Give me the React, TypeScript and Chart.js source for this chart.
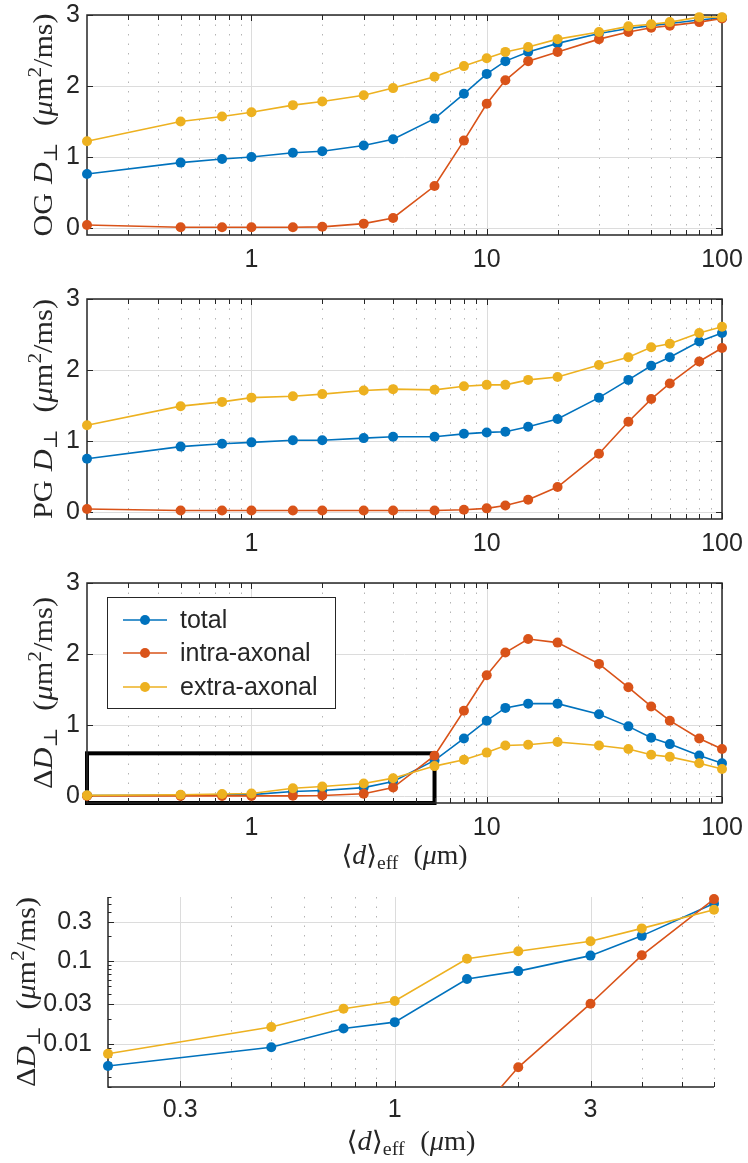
import React, { useEffect, useRef } from 'react';
import { Chart, registerables } from 'chart.js';

Chart.register(...registerables);

// ---------------- data ----------------
const X_VALUES = [0.2, 0.5, 0.75, 1, 1.5, 2, 3, 4, 6, 8, 10, 12, 15, 20, 30, 40, 50, 60, 80, 100];

const OG_TOTAL = [0.76, 0.92, 0.97, 1.0, 1.06, 1.08, 1.16, 1.25, 1.54, 1.89, 2.17, 2.35, 2.48, 2.6, 2.74, 2.81, 2.85, 2.88, 2.93, 2.96];
const OG_INTRA = [0.04, 0.01, 0.01, 0.01, 0.01, 0.015, 0.06, 0.14, 0.59, 1.23, 1.75, 2.08, 2.35, 2.48, 2.66, 2.76, 2.82, 2.85, 2.9, 2.95];
const OG_EXTRA = [1.22, 1.5, 1.57, 1.63, 1.73, 1.78, 1.87, 1.97, 2.13, 2.28, 2.39, 2.48, 2.55, 2.66, 2.76, 2.84, 2.87, 2.9, 2.97, 2.97];

const PG_TOTAL = [0.75, 0.92, 0.96, 0.98, 1.01, 1.01, 1.04, 1.06, 1.06, 1.1, 1.12, 1.13, 1.2, 1.31, 1.61, 1.86, 2.06, 2.18, 2.4, 2.52];
const PG_INTRA = [0.04, 0.02, 0.02, 0.02, 0.02, 0.02, 0.02, 0.02, 0.02, 0.03, 0.05, 0.09, 0.17, 0.35, 0.82, 1.27, 1.59, 1.81, 2.12, 2.31];
const PG_EXTRA = [1.22, 1.49, 1.55, 1.61, 1.63, 1.66, 1.71, 1.73, 1.72, 1.77, 1.79, 1.79, 1.86, 1.9, 2.07, 2.18, 2.32, 2.37, 2.52, 2.61];

const D_TOTAL = [0.0054, 0.0091, 0.0153, 0.0183, 0.061, 0.076, 0.117, 0.203, 0.5, 0.81, 1.06, 1.24, 1.3, 1.3, 1.15, 0.98, 0.82, 0.73, 0.57, 0.46];
const D_INTRA = [0, 0, 0, 0, 0.001, 0.0052, 0.0306, 0.118, 0.566, 1.2, 1.7, 2.02, 2.21, 2.16, 1.86, 1.53, 1.26, 1.06, 0.81, 0.66];
const D_EXTRA = [0.0076, 0.016, 0.0266, 0.033, 0.107, 0.132, 0.175, 0.25, 0.42, 0.51, 0.61, 0.71, 0.72, 0.76, 0.71, 0.66, 0.58, 0.55, 0.46, 0.38];

const SERIES_NAMES = ['total', 'intra-axonal', 'extra-axonal'];
const SERIES_COLORS = ['#0072BD', '#D95319', '#EDB120'];

// axes / ticks
const X_RANGE_MAIN = [0.2, 100];
const X_RANGE_ZOOM = [0.2, 6];
const Y_RANGE_LIN = [-0.1, 3];
const Y_RANGE_LOG = [0.003, 0.6];
const X_TICKS_MAIN = [1, 10, 100];
const X_MINOR_MAIN = [0.3, 0.4, 0.5, 0.6, 0.7, 0.8, 0.9, 2, 3, 4, 5, 6, 7, 8, 9, 20, 30, 40, 50, 60, 70, 80, 90];
const X_TICKS_ZOOM = [0.3, 1, 3];
const X_MINOR_ZOOM = [0.4, 0.5, 0.6, 0.7, 0.8, 0.9, 2, 4, 5, 6];
const Y_TICKS_LIN = [0, 1, 2, 3];
const Y_TICKS_LOG = [0.01, 0.03, 0.1, 0.3];
const Y_MINOR_LOG = [0.003, 0.004, 0.005, 0.006, 0.007, 0.008, 0.009, 0.02, 0.04, 0.05, 0.06, 0.07, 0.08, 0.09, 0.2, 0.4, 0.5, 0.6];
const ZOOM_BOX_X = [0.2, 6];
const ZOOM_BOX_Y = [-0.1, 0.6];

// titles (rich text segments)
type Seg = { t?: string; it?: boolean; sub?: boolean; sup?: boolean; gap?: number };
const UNIT_SEGS: Seg[] = [{ t: '(' }, { t: 'μ', it: true }, { t: 'm' }, { t: '2', sup: true }, { t: '/ms)' }];
const Y_TITLE_OG: Seg[] = [{ t: 'OG' }, { gap: 0.3 }, { t: 'D', it: true }, { t: '⊥', sub: true }, { gap: 0.55 }, ...UNIT_SEGS];
const Y_TITLE_PG: Seg[] = [{ t: 'PG' }, { gap: 0.3 }, { t: 'D', it: true }, { t: '⊥', sub: true }, { gap: 0.55 }, ...UNIT_SEGS];
const Y_TITLE_DELTA: Seg[] = [{ t: 'Δ' }, { t: 'D', it: true }, { t: '⊥', sub: true }, { gap: 0.55 }, ...UNIT_SEGS];
const X_TITLE: Seg[] = [{ t: '⟨' }, { t: 'd', it: true }, { t: '⟩' }, { t: 'eff', sub: true }, { gap: 0.55 }, { t: '(' }, { t: 'μ', it: true }, { t: 'm)' }];

// ---------------- styling ----------------
const FONT_SANS = '"Liberation Sans", Arial, Helvetica, sans-serif';
const FONT_SERIF = '"Liberation Serif", "DejaVu Serif", serif';
const AXIS_COLOR = '#262626';

type PanelDef = {
  top: number;
  height: number;
  padTop: number;
  padRight: number;
  yAxisW: number;
  xAxisH: number;
  xRange: number[];
  yRange: number[];
  yLog: boolean;
  xTicks: number[];
  xMinor: number[];
  yTicks: number[];
  yMinor: number[];
  series: (number | null)[][];
  nPoints: number;
  box: boolean;
  xTickPad: number;
  yTickPad: number;
  yTitle: Seg[];
  yTitleX: number;
  yTitleLen: number;
  xTitle?: Seg[];
  xTitleDy?: number;
  xTitleLen?: number;
  legend?: boolean;
  zoomBox?: boolean;
};

function drawRich(ctx: CanvasRenderingContext2D, segs: Seg[], cx: number, cy: number, size: number, target: number, rotate: boolean) {
  ctx.save();
  ctx.translate(cx, cy);
  if (rotate) ctx.rotate(-Math.PI / 2);
  const fontOf = (s: Seg) => `${s.it ? 'italic ' : ''}${s.sub || s.sup ? Math.round(size * 0.7) : size}px ${FONT_SERIF}`;
  const widths: number[] = [];
  let total = 0;
  for (const s of segs) {
    ctx.font = fontOf(s);
    const w = s.gap ? s.gap * size : ctx.measureText(s.t || '').width;
    widths.push(w);
    total += w;
  }
  const sx = target ? target / total : 1;
  ctx.scale(sx, 1);
  ctx.fillStyle = AXIS_COLOR;
  ctx.textBaseline = 'alphabetic';
  ctx.textAlign = 'left';
  let x = -total / 2;
  segs.forEach((s, i) => {
    if (s.t) {
      ctx.font = fontOf(s);
      const dy = s.sub ? size * 0.2 : s.sup ? -size * 0.38 : 0;
      ctx.fillText(s.t, x, dy + size * 0.28);
    }
    x += widths[i];
  });
  ctx.restore();
}

function makePlugin(p: PanelDef) {
  return {
    id: 'matlabAxes',
    beforeDatasetsDraw(chart: any) {
      const { ctx, chartArea: a, scales } = chart;
      const xs = scales.x;
      const ys = scales.y;
      ctx.save();
      const vline = (v: number) => {
        const px = Math.round(xs.getPixelForValue(v)) + 0.5;
        ctx.beginPath();
        ctx.moveTo(px, a.top);
        ctx.lineTo(px, a.bottom);
        ctx.stroke();
      };
      const hline = (v: number) => {
        const py = Math.round(ys.getPixelForValue(v)) + 0.5;
        ctx.beginPath();
        ctx.moveTo(a.left, py);
        ctx.lineTo(a.right, py);
        ctx.stroke();
      };
      // minor dotted grid
      ctx.lineWidth = 1;
      ctx.strokeStyle = '#b4b4b4';
      ctx.setLineDash([1.5, 8]);
      p.xMinor.forEach(vline);
      ctx.setLineDash([]);
      // major grid
      ctx.strokeStyle = '#dcdcdc';
      p.xTicks.forEach(vline);
      p.yTicks.forEach(hline);

      // zoom rectangle
      if (p.zoomBox) {
        const x0 = xs.getPixelForValue(ZOOM_BOX_X[0]);
        const x1 = xs.getPixelForValue(ZOOM_BOX_X[1]);
        const y0 = ys.getPixelForValue(ZOOM_BOX_Y[0]);
        const y1 = ys.getPixelForValue(ZOOM_BOX_Y[1]);
        ctx.strokeStyle = '#000';
        ctx.lineWidth = 4;
        ctx.strokeRect(x0, y1, x1 - x0, y0 - y1);
      }

      // axes lines
      ctx.strokeStyle = AXIS_COLOR;
      ctx.lineWidth = 1.5;
      ctx.beginPath();
      if (p.box) {
        ctx.rect(a.left, a.top, a.right - a.left, a.bottom - a.top);
      } else {
        ctx.moveTo(a.left, a.top);
        ctx.lineTo(a.left, a.bottom);
        ctx.lineTo(a.right, a.bottom);
      }
      ctx.stroke();

      // tick marks (inward)
      ctx.lineWidth = 1;
      const xt = (v: number, len: number) => {
        const px = Math.round(xs.getPixelForValue(v)) + 0.5;
        ctx.beginPath();
        ctx.moveTo(px, a.bottom);
        ctx.lineTo(px, a.bottom - len);
        if (p.box) {
          ctx.moveTo(px, a.top);
          ctx.lineTo(px, a.top + len);
        }
        ctx.stroke();
      };
      const yt = (v: number, len: number) => {
        const py = Math.round(ys.getPixelForValue(v)) + 0.5;
        ctx.beginPath();
        ctx.moveTo(a.left, py);
        ctx.lineTo(a.left + len, py);
        if (p.box) {
          ctx.moveTo(a.right, py);
          ctx.lineTo(a.right - len, py);
        }
        ctx.stroke();
      };
      p.xMinor.forEach((v) => xt(v, 5));
      p.xTicks.forEach((v) => xt(v, 6));
      p.yMinor.forEach((v) => yt(v, 3.5));
      p.yTicks.forEach((v) => yt(v, 6));
      ctx.restore();
    },
    afterDatasetsDraw(chart: any) {
      if (!p.legend) return;
      const { ctx, chartArea: a } = chart;
      ctx.save();
      const bx = a.left + 20;
      const by = a.top + 14;
      ctx.fillStyle = '#fff';
      ctx.fillRect(bx, by, 228, 111);
      ctx.strokeStyle = AXIS_COLOR;
      ctx.lineWidth = 1;
      ctx.strokeRect(bx + 0.5, by + 0.5, 228, 111);
      const rows = [37, 70, 104];
      SERIES_NAMES.forEach((name, i) => {
        const y = a.top + rows[i];
        ctx.strokeStyle = SERIES_COLORS[i];
        ctx.lineWidth = 1.5;
        ctx.beginPath();
        ctx.moveTo(a.left + 36, y);
        ctx.lineTo(a.left + 80, y);
        ctx.stroke();
        ctx.fillStyle = SERIES_COLORS[i];
        ctx.beginPath();
        ctx.arc(a.left + 58, y, 5, 0, Math.PI * 2);
        ctx.fill();
        ctx.fillStyle = AXIS_COLOR;
        ctx.font = `25px ${FONT_SANS}`;
        ctx.textBaseline = 'middle';
        ctx.textAlign = 'left';
        ctx.fillText(name, a.left + 93, y + 1);
      });
      ctx.restore();
    },
    afterDraw(chart: any) {
      const { ctx, chartArea: a } = chart;
      drawRich(ctx, p.yTitle, p.yTitleX, (a.top + a.bottom) / 2, 27, p.yTitleLen, true);
      if (p.xTitle) {
        drawRich(ctx, p.xTitle, (a.left + a.right) / 2, a.bottom + (p.xTitleDy || 0), 27, p.xTitleLen || 0, false);
      }
    },
  };
}

function buildConfig(p: PanelDef): any {
  const datasets = p.series.map((vals, i) => ({
    label: SERIES_NAMES[i],
    data: X_VALUES.slice(0, p.nPoints).map((x, j) => {
      const v = vals[j];
      return { x, y: p.yLog ? (v !== null && v > 0 ? v : null) : v };
    }),
    borderColor: SERIES_COLORS[i],
    backgroundColor: SERIES_COLORS[i],
    pointBackgroundColor: SERIES_COLORS[i],
    pointBorderColor: SERIES_COLORS[i],
    pointBorderWidth: 0,
    pointRadius: 5,
    borderWidth: 1.6,
    tension: 0,
    spanGaps: false,
    order: 3 - i,
    clip: p.yLog ? { left: 10, right: 10, top: 10, bottom: 0 } : 10,
  }));
  const tickFont = { family: FONT_SANS, size: 25 };
  return {
    type: 'line',
    data: { datasets },
    options: {
      responsive: false,
      animation: false,
      events: [],
      layout: { padding: { top: p.padTop, left: 0, right: p.padRight, bottom: 0 } },
      plugins: { legend: { display: false }, tooltip: { enabled: false } },
      scales: {
        x: {
          type: 'logarithmic',
          min: p.xRange[0],
          max: p.xRange[1],
          grid: { display: false, drawTicks: false },
          border: { display: false },
          ticks: {
            autoSkip: false,
            maxRotation: 0,
            minRotation: 0,
            padding: p.xTickPad,
            font: tickFont,
            color: AXIS_COLOR,
            callback: (v: any) => String(v),
          },
          afterBuildTicks: (ax: any) => {
            ax.ticks = p.xTicks.map((v) => ({ value: v }));
          },
          afterFit: (ax: any) => {
            ax.height = p.xAxisH;
            ax.paddingLeft = 0;
            ax.paddingRight = 0;
          },
        },
        y: {
          type: p.yLog ? 'logarithmic' : 'linear',
          min: p.yRange[0],
          max: p.yRange[1],
          grid: { display: false, drawTicks: false },
          border: { display: false },
          ticks: {
            autoSkip: false,
            padding: p.yTickPad,
            font: tickFont,
            color: AXIS_COLOR,
            callback: (v: any) => String(v),
          },
          afterBuildTicks: (ax: any) => {
            ax.ticks = p.yTicks.map((v) => ({ value: v }));
          },
          afterFit: (ax: any) => {
            ax.width = p.yAxisW;
            ax.paddingTop = 0;
            ax.paddingBottom = 0;
          },
        },
      },
    },
    plugins: [makePlugin(p)],
  };
}

const PANELS: PanelDef[] = [
  {
    top: 0, height: 270, padTop: 15, padRight: 26, yAxisW: 87, xAxisH: 35,
    xRange: X_RANGE_MAIN, yRange: Y_RANGE_LIN, yLog: false,
    xTicks: X_TICKS_MAIN, xMinor: X_MINOR_MAIN, yTicks: Y_TICKS_LIN, yMinor: [],
    series: [OG_TOTAL, OG_INTRA, OG_EXTRA], nPoints: 20, box: true,
    xTickPad: 10, yTickPad: 7, yTitle: Y_TITLE_OG, yTitleX: 44, yTitleLen: 223,
  },
  {
    top: 270, height: 290, padTop: 29, padRight: 26, yAxisW: 87, xAxisH: 41,
    xRange: X_RANGE_MAIN, yRange: Y_RANGE_LIN, yLog: false,
    xTicks: X_TICKS_MAIN, xMinor: X_MINOR_MAIN, yTicks: Y_TICKS_LIN, yMinor: [],
    series: [PG_TOTAL, PG_INTRA, PG_EXTRA], nPoints: 20, box: true,
    xTickPad: 10, yTickPad: 7, yTitle: Y_TITLE_PG, yTitleX: 44, yTitleLen: 220,
  },
  {
    top: 560, height: 320, padTop: 23, padRight: 26, yAxisW: 87, xAxisH: 77,
    xRange: X_RANGE_MAIN, yRange: Y_RANGE_LIN, yLog: false,
    xTicks: X_TICKS_MAIN, xMinor: X_MINOR_MAIN, yTicks: Y_TICKS_LIN, yMinor: [],
    series: [D_TOTAL, D_INTRA, D_EXTRA], nPoints: 20, box: true,
    xTickPad: 10, yTickPad: 7, yTitle: Y_TITLE_DELTA, yTitleX: 44, yTitleLen: 192,
    xTitle: X_TITLE, xTitleDy: 53, xTitleLen: 126, legend: true, zoomBox: true,
  },
  {
    top: 880, height: 283, padTop: 17, padRight: 34, yAxisW: 108, xAxisH: 76,
    xRange: X_RANGE_ZOOM, yRange: Y_RANGE_LOG, yLog: true,
    xTicks: X_TICKS_ZOOM, xMinor: X_MINOR_ZOOM, yTicks: Y_TICKS_LOG, yMinor: Y_MINOR_LOG,
    series: [D_TOTAL, D_INTRA, D_EXTRA], nPoints: 9, box: false,
    xTickPad: 8, yTickPad: 16, yTitle: Y_TITLE_DELTA, yTitleX: 27, yTitleLen: 190,
    xTitle: X_TITLE, xTitleDy: 55, xTitleLen: 129,
  },
];

function Panel({ def }: { def: PanelDef }) {
  const ref = useRef<HTMLCanvasElement | null>(null);
  useEffect(() => {
    if (!ref.current) return;
    const chart = new Chart(ref.current, buildConfig(def));
    return () => chart.destroy();
  }, [def]);
  return (
    <div style={{ position: 'absolute', left: 0, top: def.top, width: 748, height: def.height }}>
      <canvas ref={ref} width={748} height={def.height} style={{ display: 'block', width: 748, height: def.height }} />
    </div>
  );
}

export default function App() {
  return (
    <div style={{ position: 'absolute', left: 0, top: 0, width: 748, height: 1163, background: '#fff', overflow: 'hidden' }}>
      {PANELS.map((p, i) => (
        <Panel key={i} def={p} />
      ))}
    </div>
  );
}
